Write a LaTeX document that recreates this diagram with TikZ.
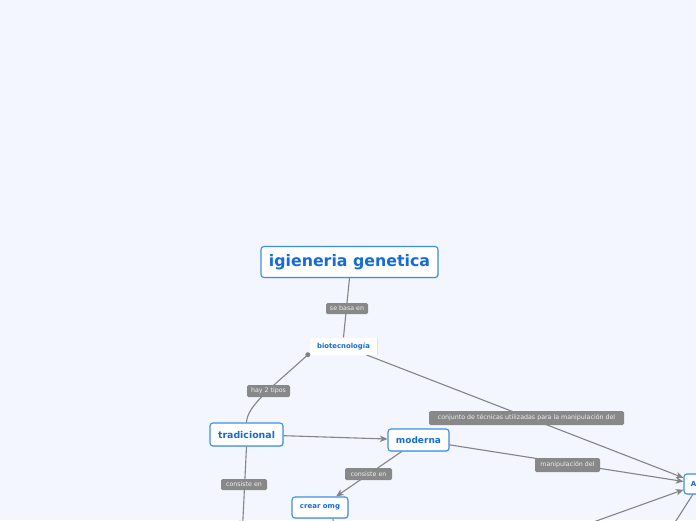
\documentclass[tikz,border=0pt]{standalone}
\usepackage{fontspec}
\setmainfont{DejaVu Sans}
\usetikzlibrary{shadows,arrows.meta,calc}
\definecolor{bgc}{RGB}{243,246,254}
\definecolor{boxblue}{RGB}{62,142,228}
\definecolor{txtblue}{RGB}{22,108,214}
\definecolor{linegray}{RGB}{132,132,132}
\definecolor{lblgray}{RGB}{136,136,136}
\definecolor{lbltxt}{RGB}{238,238,238}
\pgfdeclarelayer{bg}
\pgfdeclarelayer{edges}
\pgfsetlayers{bg,edges,main}
\tikzset{
  concept/.style={draw=boxblue, line width=1.1pt, fill=white, rounded corners=3pt,
    text=txtblue, font=\bfseries, inner sep=0pt, align=center,
    drop shadow={opacity=0.25, shadow xshift=0.7pt, shadow yshift=-0.9pt}},
  plainbox/.style={fill=white, text=txtblue, inner sep=0pt,
    font=\fontsize{6.9}{8}\selectfont\bfseries,
    drop shadow={opacity=0.15, shadow xshift=0.5pt, shadow yshift=-0.6pt}},
  lbl/.style={fill=lblgray, text=lbltxt, rounded corners=1.5pt, inner sep=0pt,
    font=\fontsize{6.3}{7}\selectfont},
  conn/.style={draw=linegray, line width=1.1pt},
  arr/.style={conn, -{Stealth[length=7.5pt,width=6.5pt,inset=2pt]}},
}
\begin{document}
\begin{tikzpicture}[x=1pt,y=-1pt]
\begin{pgfonlayer}{bg}
\fill[bgc] (0,0) rectangle (696,520);
\end{pgfonlayer}
\useasboundingbox (0,0) rectangle (696,520);

% concepts
\node[concept, minimum width=177pt, minimum height=31pt, font=\fontsize{15.8}{18}\selectfont\bfseries] (gen) at (349.5,262) {igieneria genetica};
\node[plainbox, minimum width=67pt, minimum height=17pt] (bio) at (343.5,346) {biotecnología};
\node[concept, minimum width=73pt, minimum height=23pt, font=\fontsize{9.4}{11}\selectfont\bfseries] (trad) at (246.5,434.5) {tradicional};
\node[concept, minimum width=61pt, minimum height=22pt, font=\fontsize{9}{11}\selectfont\bfseries] (mod) at (418.5,440) {moderna};
\node[concept, minimum width=56pt, minimum height=21pt, font=\fontsize{7}{8}\selectfont\bfseries] (omg) at (320,507.5) {crear omg};
\node[concept, minimum width=31pt, minimum height=20pt, font=\fontsize{7}{8}\selectfont\bfseries] (adn) at (699.5,484) {ADN};

% labels
\node[lbl, minimum width=42pt, minimum height=11pt] (l1) at (347,308.5) {se basa en};
\node[lbl, minimum width=43pt, minimum height=12pt] (l2) at (268.5,391) {hay 2 tipos};
\node[lbl, minimum width=46pt, minimum height=11pt] (l3) at (244,484.5) {consiste en};
\node[lbl, minimum width=47pt, minimum height=12pt] (l4) at (368.5,474) {consiste en};
\node[lbl, minimum width=195pt, minimum height=14pt] (l5) at (526.5,418) {conjunto de técnicas utilizadas para la manipulación del};
\node[lbl, minimum width=65pt, minimum height=14pt] (l6) at (567.5,465) {manipulación del};

% free ends
\coordinate (dot) at ($(bio.south west)+(-2,0)$);
\coordinate (tdown) at (242.5,528);
\coordinate (otop) at ($(omg.south)+(13,0)$);
\coordinate (odown) at (334,530);
\coordinate (lowl) at (585,525);
\coordinate (adown) at (672,527);

\begin{pgfonlayer}{edges}
\draw[conn] (gen.south) -- (bio.north);
\draw[conn] (dot) .. controls (275,385) and (247,405) .. (trad.north);
\draw[arr] (bio) -- (adn);
\draw[arr] (trad) -- (mod);
\draw[arr] (mod) -- (adn);
\draw[arr] (mod) -- (omg);
\draw[arr] (trad.south) -- (tdown);
\draw[conn] (otop) -- (odown);
\draw[arr] (lowl) -- (adn);
\draw[conn] (adn) -- (adown);
\end{pgfonlayer}
\fill[linegray] (dot) circle (2.5pt);
\end{tikzpicture}
\end{document}
